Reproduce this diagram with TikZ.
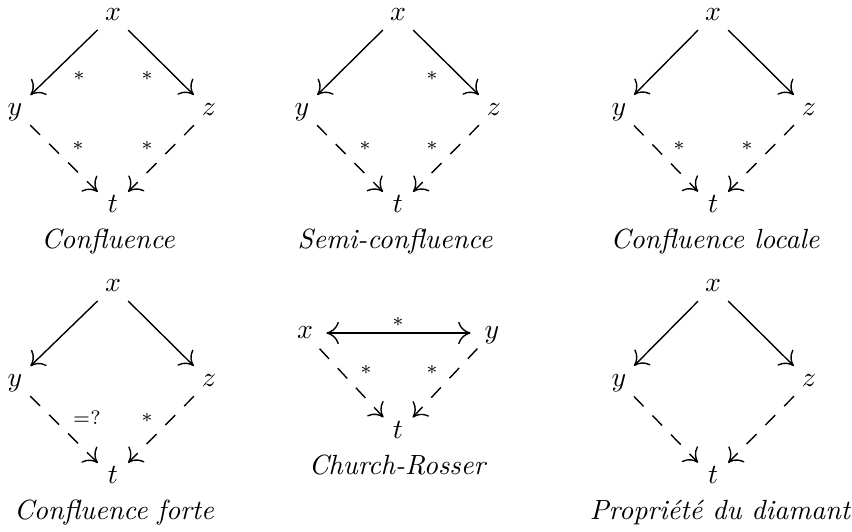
\documentclass[tikz,border=0pt]{standalone}
\usetikzlibrary{arrows.meta}
\begin{document}
\begin{tikzpicture}[x=0.36pt,y=-0.36pt,
  >={Computer Modern Rightarrow[length=4.5pt,width=8pt]},
  v/.style={circle, inner sep=0pt, minimum size=15pt, text height=4.3pt, text depth=0pt},
  lab/.style={font=\scriptsize, inner sep=0pt},
  captxt/.style={anchor=base, font=\itshape, inner sep=0pt},
  arr/.style={->, line width=0.5pt},
  darr/.style={arr, dash pattern=on 5pt off 4.6pt}]
\useasboundingbox (0,0) rectangle (852,531);
% ---------- Confluence ----------
\node[v] (ax) at (113,15) {$x$};
\node[v] (ay) at (15,110) {$y$};
\node[v] (az) at (209,110) {$z$};
\node[v] (at) at (113,207) {$t$};
\draw[arr] (ax) -- (ay);
\draw[arr] (ax) -- (az);
\draw[darr] (ay) -- (at);
\draw[darr] (az) -- (at);
\node[lab] (al1) at (79,76) {$*$};
\node[lab] (al2) at (147,76) {$*$};
\node[lab] (al3) at (78,146) {$*$};
\node[lab] (al4) at (147,146) {$*$};
\node[captxt] (ac) at (108,248) {Confluence};
% ---------- Semi-confluence ----------
\node[v] (bx) at (398,15) {$x$};
\node[v] (by) at (302,110) {$y$};
\node[v] (bz) at (494,110) {$z$};
\node[v] (bt) at (398,207) {$t$};
\draw[arr] (bx) -- (by);
\draw[arr] (bx) -- (bz);
\draw[darr] (by) -- (bt);
\draw[darr] (bz) -- (bt);
\node[lab] (bl2) at (432,76) {$*$};
\node[lab] (bl3) at (365,146) {$*$};
\node[lab] (bl4) at (432,146) {$*$};
\node[captxt] (bc) at (395,248) {Semi-confluence};
% ---------- Confluence locale ----------
\node[v] (cx) at (713,15) {$x$};
\node[v] (cy) at (619,110) {$y$};
\node[v] (cz) at (809,110) {$z$};
\node[v] (ct) at (713,207) {$t$};
\draw[arr] (cx) -- (cy);
\draw[arr] (cx) -- (cz);
\draw[darr] (cy) -- (ct);
\draw[darr] (cz) -- (ct);
\node[lab] (cl3) at (679,146) {$*$};
\node[lab] (cl4) at (747,146) {$*$};
\node[captxt] (cc) at (715,248) {Confluence locale};
% ---------- Confluence forte ----------
\node[v] (dx) at (113,286) {$x$};
\node[v] (dy) at (15,381) {$y$};
\node[v] (dz) at (209,381) {$z$};
\node[v] (dt) at (113,478) {$t$};
\draw[arr] (dx) -- (dy);
\draw[arr] (dx) -- (dz);
\draw[darr] (dy) -- (dt);
\draw[darr] (dz) -- (dt);
\node[lab] (dl3) at (87,418) {$=?$};
\node[lab] (dl4) at (147,418) {$*$};
\node[captxt] (dc) at (114,519) {Confluence forte};
% ---------- Church-Rosser ----------
\node[v] (ex) at (305,333) {$x$};
\node[v] (ey) at (492,333) {$y$};
\node[v] (et) at (398,433) {$t$};
\draw[arr,<->] (ex) -- (ey);
\draw[darr] (ex) -- (et);
\draw[darr] (ey) -- (et);
\node[lab] (el1) at (398,322) {$*$};
\node[lab] (el3) at (366,370) {$*$};
\node[lab] (el4) at (432,370) {$*$};
\node[captxt] (ec) at (397,474) {Church-Rosser};
% ---------- Propriete du diamant ----------
\node[v] (fx) at (713,286) {$x$};
\node[v] (fy) at (619,381) {$y$};
\node[v] (fz) at (809,381) {$z$};
\node[v] (ft) at (713,478) {$t$};
\draw[arr] (fx) -- (fy);
\draw[arr] (fx) -- (fz);
\draw[darr] (fy) -- (ft);
\draw[darr] (fz) -- (ft);
\node[captxt] (fc) at (720,519) {Propriété du diamant};
\end{tikzpicture}
\end{document}
